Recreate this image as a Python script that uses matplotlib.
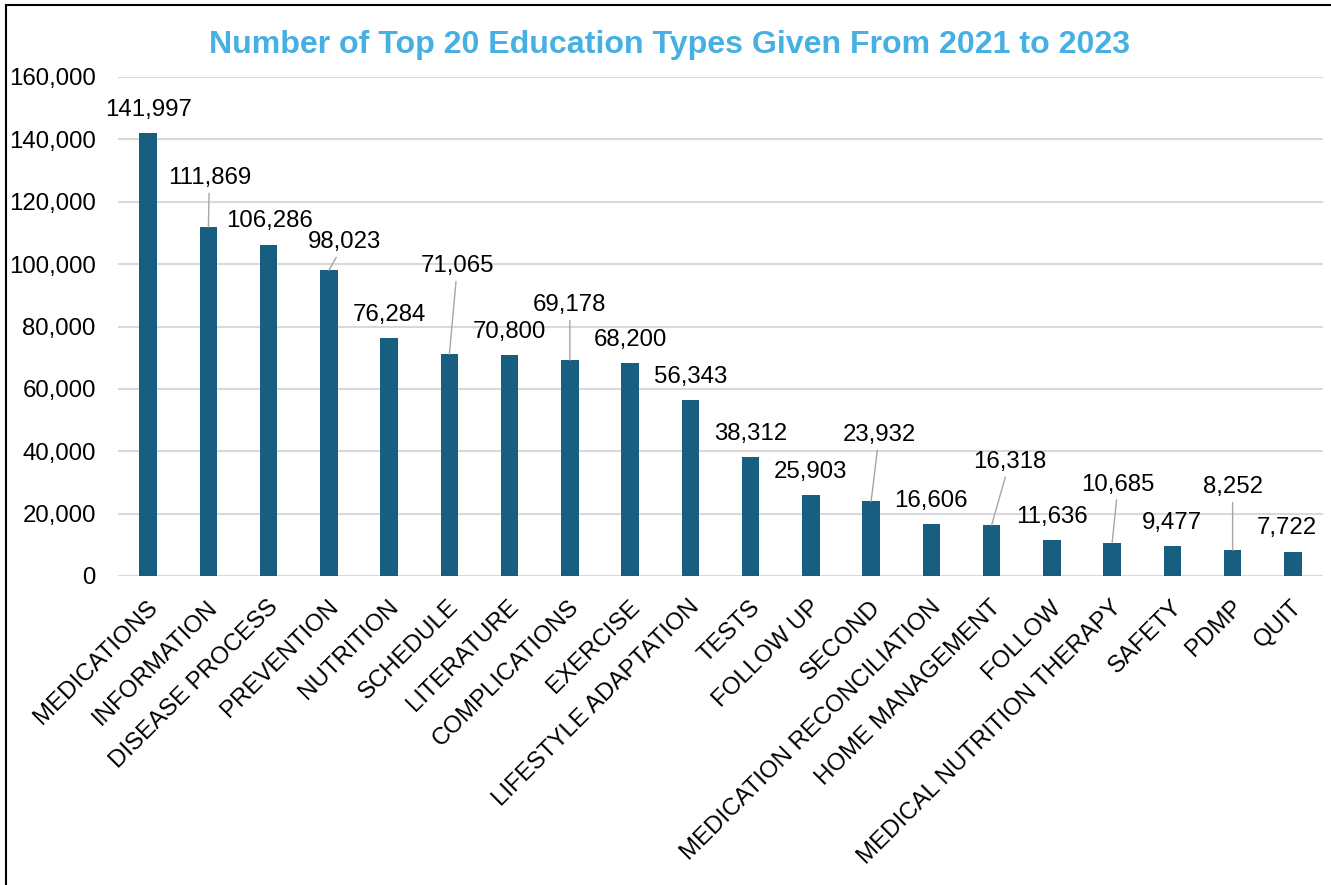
import matplotlib.pyplot as plt
import matplotlib.transforms as mtransforms
from matplotlib.lines import Line2D

categories = ['MEDICATIONS', 'INFORMATION', 'DISEASE PROCESS', 'PREVENTION',
              'NUTRITION', 'SCHEDULE', 'LITERATURE', 'COMPLICATIONS', 'EXERCISE',
              'LIFESTYLE ADAPTATION', 'TESTS', 'FOLLOW UP', 'SECOND',
              'MEDICATION RECONCILIATION', 'HOME MANAGEMENT', 'FOLLOW',
              'MEDICAL NUTRITION THERAPY', 'SAFETY', 'PDMP', 'QUIT']
counts = [141997, 111869, 106286, 98023, 76284, 71065, 70800, 69178, 68200,
          56343, 38312, 25903, 23932, 16606, 16318, 11636, 10685, 9477, 8252, 7722]
yticks = [0, 20000, 40000, 60000, 80000, 100000, 120000, 140000, 160000]

# label shifts (px) for labels that were dragged away from the bar, with leader lines
moved = {1: (1, 51), 3: (16, 30), 5: (8, 90), 7: (0, 57), 12: (8, 68),
         14: (18, 65), 16: (6, 60), 18: (0, 65)}
nudged = {2: (1, 26), 19: (-6, 26)}

plt.rcParams['font.family'] = ['Liberation Sans', 'DejaVu Sans']
FS = 17.3

W, H = 1331, 885
fig = plt.figure(figsize=(W / 100, H / 100), dpi=100)
ax = fig.add_axes([118 / W, 1 - 576 / H, (1323 - 118) / W, (576 - 77) / H])

x = list(range(len(categories)))
ax.bar(x, counts, width=0.29, color='#185E80', zorder=3)

ax.set_xlim(-0.5, len(categories) - 0.5)
ax.set_ylim(0, 160000)
ax.set_yticks(yticks)
ax.set_yticklabels(['{:,}'.format(v) for v in yticks], fontsize=FS)
ax.grid(axis='y', color='#d9d9d9', linewidth=1.5, zorder=0)
ax.set_axisbelow(True)
for s in ax.spines.values():
    s.set_visible(False)
ax.tick_params(axis='both', length=0)
ax.tick_params(axis='y', pad=16)

ax.set_xticks(x)
ax.set_xticklabels(categories, fontsize=FS, rotation=45, ha='right',
                   va='center', rotation_mode='anchor')
ax.tick_params(axis='x', pad=20)
shift = mtransforms.ScaledTranslation(0.06, 0, fig.dpi_scale_trans)
for lbl in ax.get_xticklabels():
    lbl.set_transform(lbl.get_transform() + shift)

k = 0.72  # px -> pt at 100 dpi
for i, v in enumerate(counts):
    txt = '{:,}'.format(v)
    if i in moved:
        dx, dy = moved[i]
        ax.annotate(txt, xy=(i, v), xytext=(dx * k, (dy - 2) * k),
                    textcoords='offset points', ha='center', va='center',
                    fontsize=FS, zorder=5,
                    arrowprops=dict(arrowstyle='-', color='#a6a6a6', lw=1,
                                    shrinkA=1, shrinkB=0))
    else:
        dx, dy = nudged.get(i, (0, 25))
        ax.annotate(txt, xy=(i, v), xytext=(dx * k, (dy - 2) * k),
                    textcoords='offset points', ha='center', va='center',
                    fontsize=FS, zorder=5)

fig.text(669.5 / W, 1 - 45 / H, 'Number of Top 20 Education Types Given From 2021 to 2023',
         ha='center', va='center', fontsize=23.1, fontweight='bold', color='#45B0E1')

# chart frame (top and left edges visible)
fig.add_artist(Line2D([6 / W, 1], [1 - 5 / H, 1 - 5 / H], transform=fig.transFigure,
                      color='black', lw=1.5))
fig.add_artist(Line2D([6 / W, 6 / W], [0, 1 - 5 / H], transform=fig.transFigure,
                      color='black', lw=1.5))

fig.savefig('out.png', dpi=100)
